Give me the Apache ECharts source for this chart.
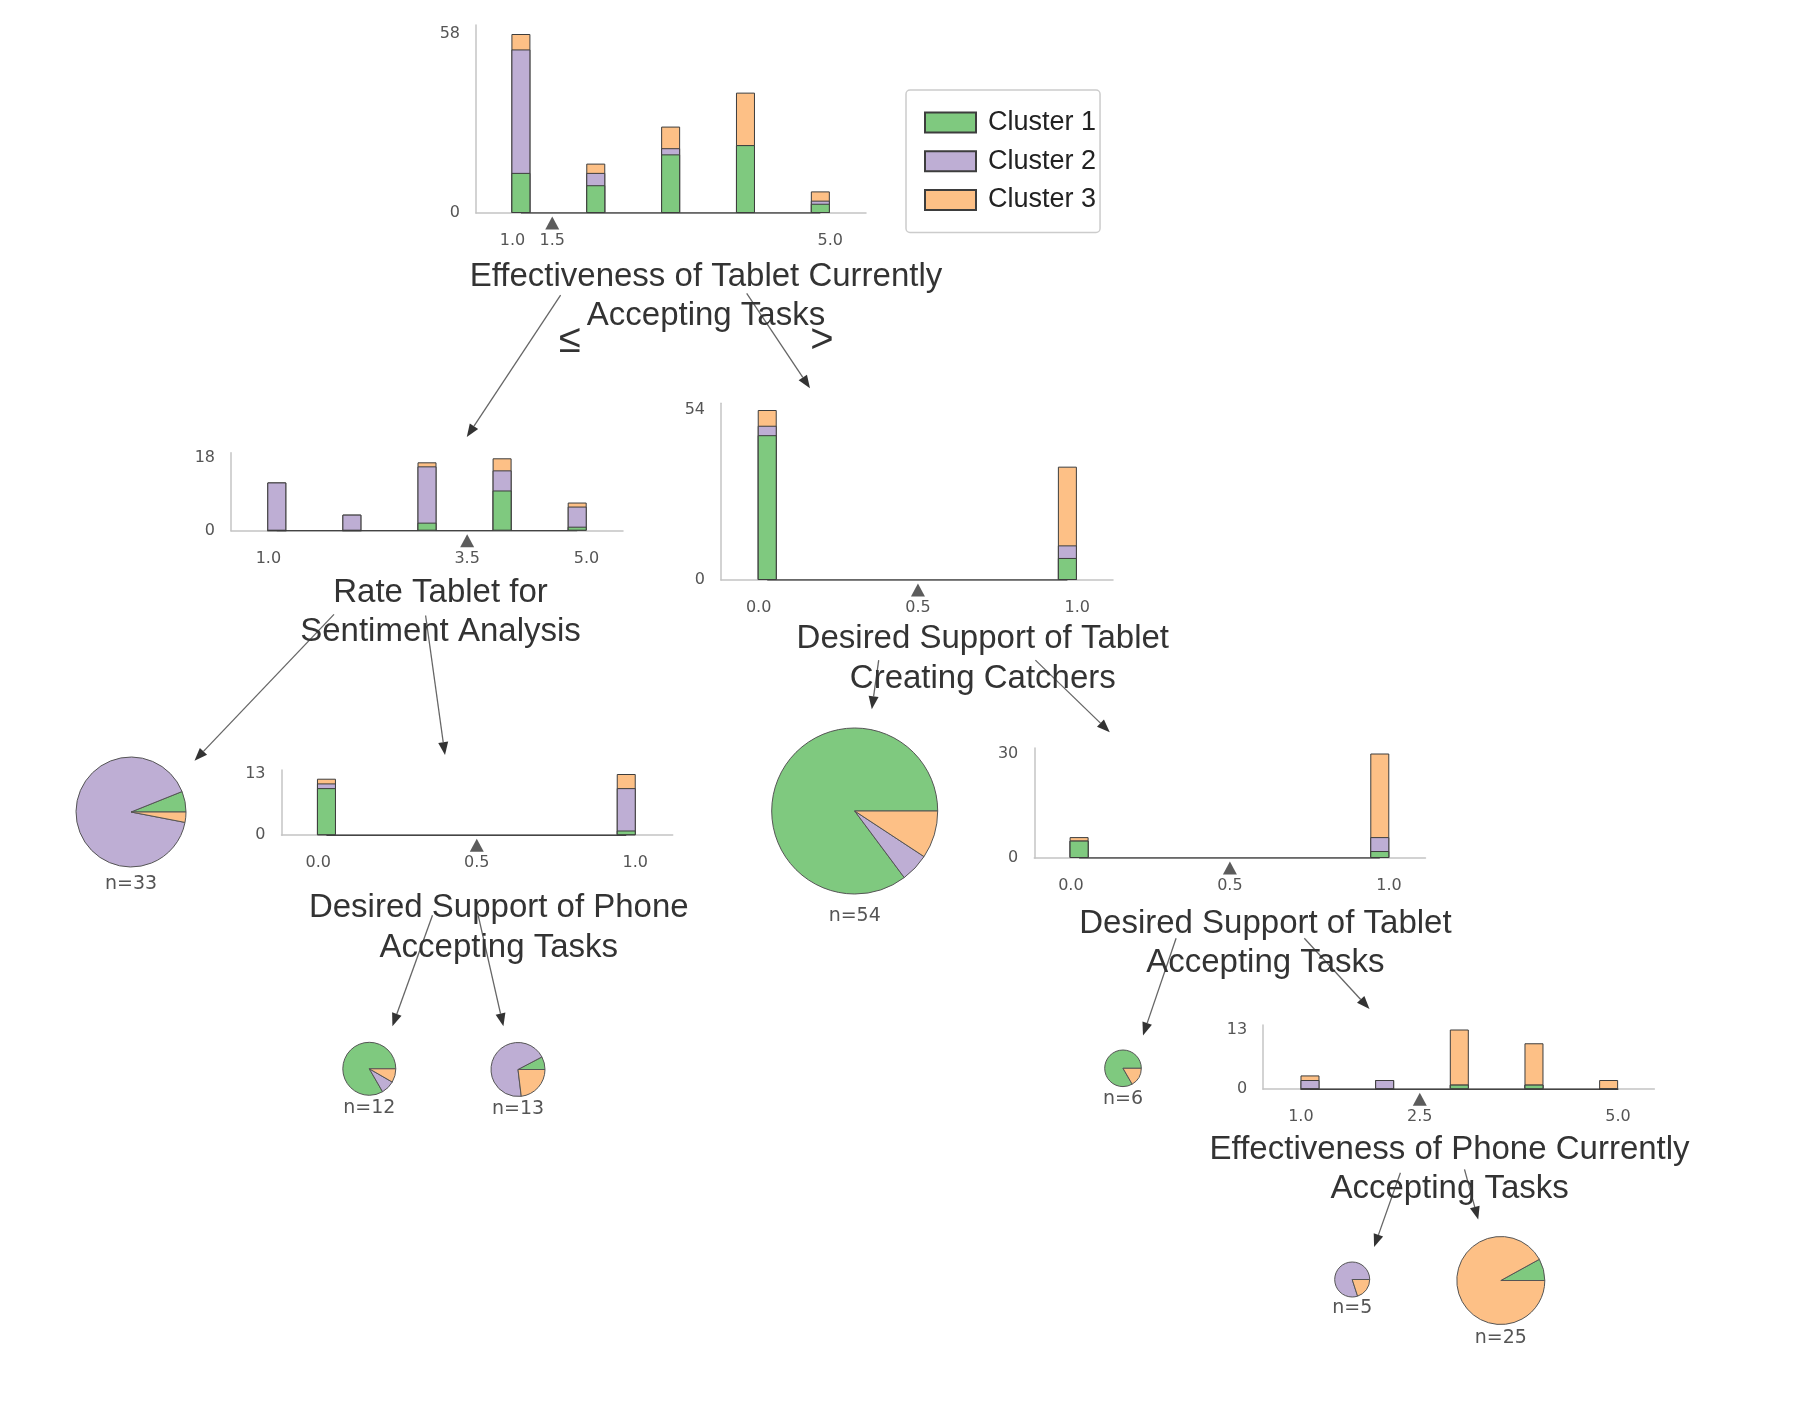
<!DOCTYPE html>
<html><head><meta charset="utf-8">
<script src="https://cdn.jsdelivr.net/npm/echarts@6/dist/echarts.min.js"></script>
<style>html,body{margin:0;padding:0;background:#fff}#c{width:1794px;height:1407px}</style>
</head><body><div id="c"></div>
<script>
// ---------------- data ----------------
const clusterNames = ['Cluster 1', 'Cluster 2', 'Cluster 3'];
const clusterColors = ['#7fc97f', '#beaed4', '#fdc086'];

const rootTitle = 'Effectiveness of Tablet Currently\nAccepting Tasks';
const rootBins = [1, 2, 3, 4, 5];
const rootC1 = [13, 9, 19, 22, 3];
const rootC2 = [40, 4, 2, 0, 1];
const rootC3 = [5, 3, 7, 17, 3];
const rootXTicks = ['1.0', '1.5', '5.0'];
const rootYTicks = [0, 58];
const rootSplit = 1.5;

const rateTitle = 'Rate Tablet for\nSentiment Analysis';
const rateBins = [1, 2, 3, 4, 5];
const rateC1 = [0, 0, 2, 10, 1];
const rateC2 = [12, 4, 14, 5, 5];
const rateC3 = [0, 0, 1, 3, 1];
const rateXTicks = ['1.0', '3.5', '5.0'];
const rateYTicks = [0, 18];
const rateSplit = 3.5;

const catchTitle = 'Desired Support of Tablet\nCreating Catchers';
const catchBins = [0, 1];
const catchC1 = [46, 7];
const catchC2 = [3, 4];
const catchC3 = [5, 25];
const catchXTicks = ['0.0', '0.5', '1.0'];
const catchYTicks = [0, 54];
const catchSplit = 0.5;

const phoneTitle = 'Desired Support of Phone\nAccepting Tasks';
const phoneBins = [0, 1];
const phoneC1 = [10, 1];
const phoneC2 = [1, 9];
const phoneC3 = [1, 3];
const phoneXTicks = ['0.0', '0.5', '1.0'];
const phoneYTicks = [0, 13];
const phoneSplit = 0.5;

const tabAccTitle = 'Desired Support of Tablet\nAccepting Tasks';
const tabAccBins = [0, 1];
const tabAccC1 = [5, 2];
const tabAccC2 = [0, 4];
const tabAccC3 = [1, 24];
const tabAccXTicks = ['0.0', '0.5', '1.0'];
const tabAccYTicks = [0, 30];
const tabAccSplit = 0.5;

const phEffTitle = 'Effectiveness of Phone Currently\nAccepting Tasks';
const phEffBins = [1, 2, 3, 4, 5];
const phEffC1 = [0, 0, 1, 1, 0];
const phEffC2 = [2, 2, 0, 0, 0];
const phEffC3 = [1, 0, 12, 9, 2];
const phEffXTicks = ['1.0', '2.5', '5.0'];
const phEffYTicks = [0, 13];
const phEffSplit = 2.5;

// leaf class counts [cluster1, cluster2, cluster3]
const leafRateLow = [2, 30, 1];     // n=33
const leafPhoneNo = [10, 1, 1];     // n=12
const leafPhoneYes = [1, 9, 3];     // n=13
const leafCatchNo = [46, 3, 5];     // n=54
const leafTabAccNo = [5, 0, 1];     // n=6
const leafPhEffLow = [0, 4, 1];     // n=5
const leafPhEffHigh = [2, 0, 23];   // n=25

const splitSymbols = ['\u2264', '>'];

// ---------------- layout ----------------
const hists = [
  { bins: rootBins, c: [rootC1, rootC2, rootC3], xt: rootXTicks, yt: rootYTicks, split: rootSplit, title: rootTitle,
    L: { left: 476, right: 866, base: 213, top: 25, tickY: 34, bar: [0.4, 5.61], lab: [0.54, 5.45], tx: 706, ty: 296.3 } },
  { bins: rateBins, c: [rateC1, rateC2, rateC3], xt: rateXTicks, yt: rateYTicks, split: rateSplit, title: rateTitle,
    L: { left: 231, right: 623, base: 530.7, top: 452.7, tickY: 458.3, bar: [0.39, 5.61], lab: [0.53, 5.46], tx: 440.5, ty: 612.4 } },
  { bins: catchBins, c: [catchC1, catchC2, catchC3], xt: catchXTicks, yt: catchYTicks, split: catchSplit, title: catchTitle,
    L: { left: 721, right: 1113, base: 580, top: 403.3, tickY: 410, bar: [-0.154, 1.152], lab: [-0.118, 1.112], tx: 982.8, ty: 659.1 } },
  { bins: phoneBins, c: [phoneC1, phoneC2, phoneC3], xt: phoneXTicks, yt: phoneYTicks, split: phoneSplit, title: phoneTitle,
    L: { left: 281.5, right: 672.7, base: 835.2, top: 770, tickY: 774, bar: [-0.15, 1.155], lab: [-0.116, 1.118], tx: 498.8, ty: 927.8 } },
  { bins: tabAccBins, c: [tabAccC1, tabAccC2, tabAccC3], xt: tabAccXTicks, yt: tabAccYTicks, split: tabAccSplit, title: tabAccTitle,
    L: { left: 1034.3, right: 1425.5, base: 858, top: 748, tickY: 753.5, bar: [-0.149, 1.152], lab: [-0.115, 1.115], tx: 1265.4, ty: 943.6 } },
  { bins: phEffBins, c: [phEffC1, phEffC2, phEffC3], xt: phEffXTicks, yt: phEffYTicks, split: phEffSplit, title: phEffTitle,
    L: { left: 1263.1, right: 1654.4, base: 1089.2, top: 1025, tickY: 1029.5, bar: [0.372, 5.613], lab: [0.523, 5.46], tx: 1449.6, ty: 1169.3 } }
];

const leaves = [
  { d: leafRateLow, cx: 131, cy: 812, r: 55, ly: 884 },
  { d: leafPhoneNo, cx: 369.3, cy: 1068.8, r: 26.5, ly: 1108 },
  { d: leafPhoneYes, cx: 518, cy: 1069.5, r: 27, ly: 1109.5 },
  { d: leafCatchNo, cx: 854.7, cy: 811, r: 83, ly: 916 },
  { d: leafTabAccNo, cx: 1123, cy: 1068.3, r: 18.3, ly: 1099.5 },
  { d: leafPhEffLow, cx: 1352.2, cy: 1279.5, r: 17.5, ly: 1308.5 },
  { d: leafPhEffHigh, cx: 1500.8, cy: 1280.5, r: 44, ly: 1338 }
];

const arrows = [
  [560.6, 295.2, 466.8, 437], [746.7, 293.3, 810, 388.3],
  [334, 614.4, 194.5, 760.8], [425.6, 615.5, 445, 755.1],
  [878.7, 660.1, 871.8, 709.3], [1035.4, 660.1, 1109.8, 732.2],
  [432.5, 915.3, 392.4, 1026.3], [478.2, 915.3, 503.4, 1026.3],
  [1176.1, 938.2, 1143, 1035.4], [1304.3, 938.2, 1369.5, 1009],
  [1400.4, 1172.7, 1374.1, 1247.1], [1464.5, 1169.3, 1478.2, 1219.6]
];
const splitSymbolPos = [[570, 341], [822, 341]];

// ---------------- build ----------------
const AX = '#c4c4c4', LBL = '#555', EDGE = '#3d3d3d';
const grids = [], xAxes = [], yAxes = [], series = [], graphics = [];

hists.forEach((h, i) => {
  const L = h.L;
  grids.push({ left: L.left, top: L.top, width: L.right - L.left, height: L.base - L.top });
  const ymax = h.yt[1] * (L.base - L.top) / (L.base - L.tickY);
  xAxes.push({ gridIndex: i, type: 'value', position: 'bottom', min: L.bar[0], max: L.bar[1],
    axisLine: { show: true, onZero: false, lineStyle: { color: AX, width: 1.5 } },
    axisTick: { show: false }, axisLabel: { show: false }, splitLine: { show: false } });
  xAxes.push({ gridIndex: i, type: 'value', position: 'bottom', min: L.lab[0], max: L.lab[1],
    axisLine: { show: false, onZero: false }, axisTick: { show: false }, splitLine: { show: false },
    axisLabel: { customValues: h.xt.map(Number), formatter: v => v.toFixed(1), margin: 20,
      fontSize: 16, color: LBL, fontFamily: 'DejaVu Sans' } });
  yAxes.push({ gridIndex: i, type: 'value', position: 'left', min: 0, max: ymax,
    axisLine: { show: true, onZero: false, lineStyle: { color: AX, width: 1.5 } },
    axisTick: { show: false }, splitLine: { show: false },
    axisLabel: { customValues: h.yt, margin: 16, fontSize: 16, color: LBL, fontFamily: 'DejaVu Sans' } });

  // stacked bars drawn as overlapping cumulative bars (top cluster drawn first)
  const cum = h.c.map((_, k) => h.bins.map((b, j) => h.c.slice(0, k + 1).reduce((s, arr) => s + arr[j], 0)));
  for (let k = h.c.length - 1; k >= 0; k--) {
    series.push({ type: 'bar', name: clusterNames[k], xAxisIndex: 2 * i, yAxisIndex: i,
      barWidth: 19, barGap: '-100%', data: h.bins.map((b, j) => [b, cum[k][j]]),
      itemStyle: { color: clusterColors[k], borderColor: EDGE, borderWidth: 1 }, z: 3, silent: true });
  }
  series.push({ type: 'line', xAxisIndex: 2 * i, yAxisIndex: i,
    data: [[h.bins[0], 0], [h.bins[h.bins.length - 1], 0]], symbol: 'none',
    lineStyle: { color: '#444', width: 1.5 }, z: 2, silent: true });
  series.push({ type: 'scatter', xAxisIndex: 2 * i + 1, yAxisIndex: i, data: [[h.split, 0]],
    symbol: 'triangle', symbolSize: [14, 13], symbolOffset: [0, 10], clip: false,
    itemStyle: { color: '#333' }, z: 5, silent: true });

  graphics.push({ type: 'text', x: L.tx, y: L.ty, z: 10,
    style: { text: h.title, fontSize: 33, fontFamily: 'Liberation Sans', fill: '#333',
      align: 'center', verticalAlign: 'middle', lineHeight: 39.5 } });
});

leaves.forEach(lf => {
  const n = lf.d.reduce((a, b) => a + b, 0);
  series.push({ type: 'pie', center: [lf.cx, lf.cy], radius: lf.r, startAngle: 0, clockwise: false,
    label: { show: false }, labelLine: { show: false }, silent: true,
    itemStyle: { borderColor: '#555', borderWidth: 1 },
    data: lf.d.map((v, k) => ({ name: clusterNames[k], value: v, itemStyle: { color: clusterColors[k] } }))
      .filter(o => o.value > 0) });
  graphics.push({ type: 'text', x: lf.cx, y: lf.ly, z: 10,
    style: { text: 'n=' + n, fontSize: 19, fontFamily: 'DejaVu Sans', fill: LBL,
      align: 'center', verticalAlign: 'middle' } });
});

arrows.forEach(a => {
  const [x1, y1, x2, y2] = a;
  const dx = x2 - x1, dy = y2 - y1, len = Math.hypot(dx, dy);
  const ux = dx / len, uy = dy / len, hl = 13, hw = 5;
  const bx = x2 - ux * hl, by = y2 - uy * hl;
  graphics.push({ type: 'line', z: 8, shape: { x1, y1, x2: bx, y2: by },
    style: { stroke: '#666', lineWidth: 1.3 } });
  graphics.push({ type: 'polygon', z: 8,
    shape: { points: [[x2, y2], [bx - uy * hw, by + ux * hw], [bx + uy * hw, by - ux * hw]] },
    style: { fill: '#333' } });
});

splitSymbols.forEach((s, i) => {
  graphics.push({ type: 'text', x: splitSymbolPos[i][0], y: splitSymbolPos[i][1], z: 10,
    style: { text: s, fontSize: 40, fontFamily: 'Liberation Sans', fill: '#333',
      align: 'center', verticalAlign: 'middle' } });
});

const chart = echarts.init(document.getElementById('c'), null, { renderer: 'canvas' });
chart.setOption({
  animation: false,
  backgroundColor: '#fff',
  textStyle: { fontFamily: 'Liberation Sans' },
  legend: {
    data: clusterNames, orient: 'vertical', left: 906, top: 90,
    itemWidth: 51, itemHeight: 20, itemGap: 11.7, icon: 'rect',
    padding: [19, 4, 19, 18], borderColor: '#ccc', borderWidth: 1.5, borderRadius: 4,
    selectedMode: false,
    textStyle: { fontSize: 27, fontFamily: 'Liberation Sans', color: '#222', padding: [0, 0, 0, 7] }
  },
  grid: grids, xAxis: xAxes, yAxis: yAxes, series: series, graphic: graphics
});
</script>
</body></html>
